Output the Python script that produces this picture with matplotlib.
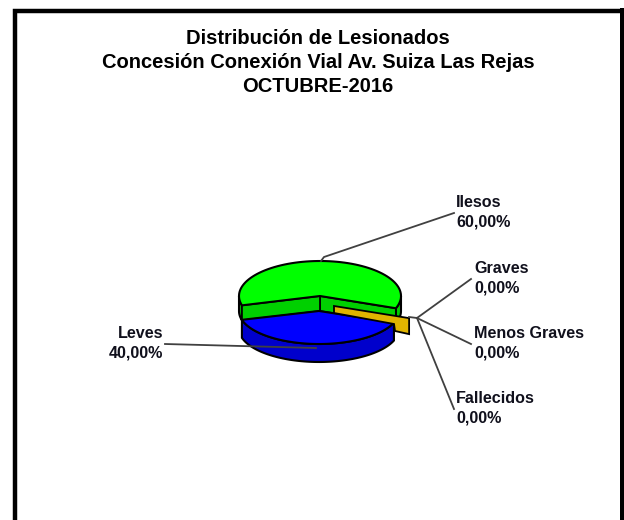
import numpy as np
import matplotlib
matplotlib.use('Agg')
import matplotlib.pyplot as plt

plt.rcParams['font.family'] = ['Liberation Sans', 'DejaVu Sans']

### data
title_lines = ['Distribución de Lesionados', 'Concesión Conexión Vial Av. Suiza Las Rejas', 'OCTUBRE-2016']
categories = ['Ilesos', 'Leves', 'Graves', 'Menos Graves', 'Fallecidos']
values = [60.0, 40.0, 0.0, 0.0, 0.0]

### layout, in pixels of the picture
cx, cy = 320, 296       # centre of the green slice
rx, ry = 81, 35
green_depth = 15
blue_cx = 319           # blue slice is pulled down and a bit left
blue_drop = 15
blue_rx, blue_ry = 80, 33
blue_depth = 18
start_angle = -20.5

label_pos = {'Ilesos': (456, 195, 'left'), 'Leves': (163, 326, 'right'), 'Graves': (474, 261, 'left'),
             'Menos Graves': (474, 326, 'left'), 'Fallecidos': (456, 391, 'left')}
leaders = {'Ilesos': [(321, 261), (324, 257), (454, 213)],
           'Leves': [(165, 344), (316, 348)],
           'Graves': [(409, 317), (417, 318), (471, 279)],
           'Menos Graves': [(417, 318), (471, 344)],
           'Fallecidos': [(417, 318), (454, 409)]}


def arc(a0, a1, y0, n=80, x0=cx, a=rx, b=ry):
    t = np.radians(np.linspace(a0, a1, n))
    return np.column_stack([x0 + a * np.cos(t), y0 - b * np.sin(t)])


def wedge(ax, a0, a1, y0, depth, side, x0=cx, a=rx, b=ry):
    # outer wall, only the lower half of the ellipse shows
    for lo, hi in [(a0, min(a1, 0)), (max(a0, 180), a1)]:
        if hi > lo:
            p = arc(lo, hi, y0, x0=x0, a=a, b=b)
            wall = np.vstack([p, (p + [0, depth])[::-1]])
            ax.fill(wall[:, 0], wall[:, 1], color=side, ec='k', lw=1.5)
    return np.vstack([[(x0, y0)], arc(a0, a1, y0, x0=x0, a=a, b=b)])


fig = plt.figure(figsize=(6.24, 5.2), dpi=100)
ax = fig.add_axes([0, 0, 1, 1])
ax.set_xlim(0, 624)
ax.set_ylim(520, 0)
ax.axis('off')

### frame, no line at the bottom
ax.plot([15, 15, 622], [520, 10.5, 10.5], color='k', lw=3.2, solid_joinstyle='miter')
ax.fill_between([620, 624], 8, 520, color='k', lw=0)

### slice angles come from the values
green_end = start_angle + values[0] / sum(values) * 360
blue_end = green_end + values[1] / sum(values) * 360

### green slice
top = wedge(ax, start_angle, green_end, cy, green_depth, '#00cc00')
for a in (start_angle, green_end):
    p = arc(a, a, cy, 1)[0]
    cut = np.array([(cx, cy), p, p + [0, green_depth], (cx, cy + green_depth)])
    ax.fill(cut[:, 0], cut[:, 1], color='#00d000', ec='k', lw=1.3)
ax.fill(top[:, 0], top[:, 1], color='#00ff00', ec='k', lw=1.5)

### blue slice
by = cy + blue_drop
top = wedge(ax, green_end, blue_end, by, blue_depth, '#0000cc', x0=blue_cx, a=blue_rx, b=blue_ry)
ax.fill(top[:, 0], top[:, 1], color='#0000ff', ec='k', lw=1.5)

### zero slices end up as one flat gold sliver along the start angle
base = np.array([334.0, 306.0])
d = arc(start_angle, start_angle, 0, 1)[0] - [cx, 0]
tip = base + d * 0.99
gold = np.array([base, tip, tip + [0, 16], (395, 331), (394, 324), base + [0, 7]])
ax.fill(gold[:, 0], gold[:, 1], color='#e0b400', ec='k', lw=1.3)

### leader lines and labels
for name, val in zip(categories, values):
    pts = np.array(leaders[name])
    ax.plot(pts[:, 0], pts[:, 1], color='#404040', lw=1.3)
    x, y, ha = label_pos[name]
    txt = name + '\n' + f'{val:.2f}'.replace('.', ',') + '%'
    ax.text(x, y, txt, ha=ha, va='top', fontsize=11.6, fontweight='bold',
            color='#10101c', linespacing=1.4, multialignment=ha)

### title
for i, line in enumerate(title_lines):
    ax.text(318, 38 + i * 24.5, line, ha='center', va='center', fontsize=14.5, fontweight='bold', color='k')

fig.savefig('out.png', dpi=100)
